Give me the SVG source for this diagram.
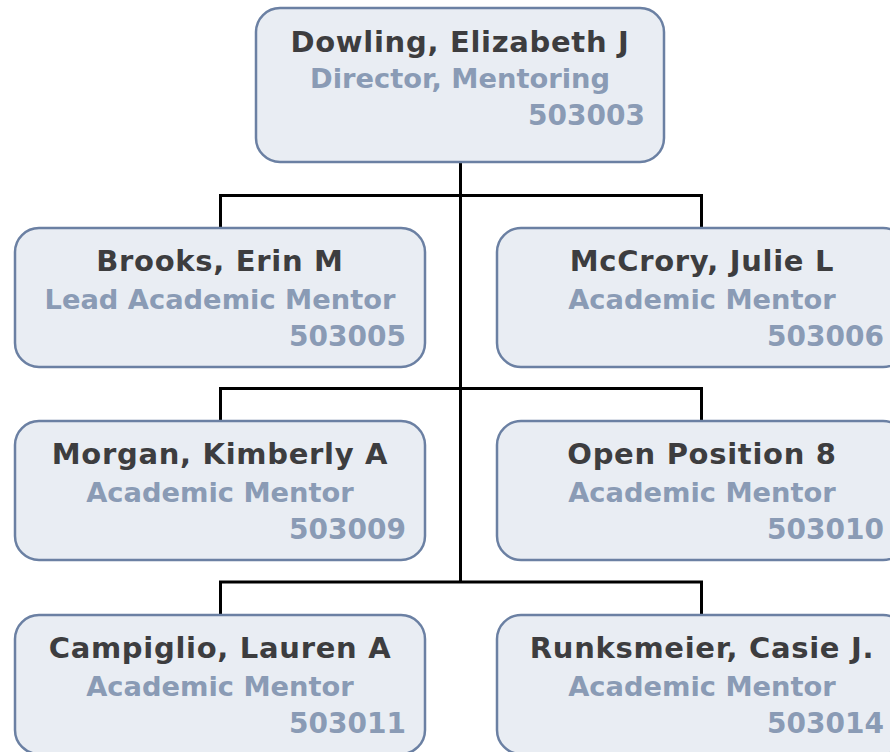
<svg xmlns="http://www.w3.org/2000/svg" width="890" height="752" viewBox="0 0 890 752">
  <style>
    .box { fill: #e9edf3; stroke: #6b80a3; stroke-width: 2.5; }
    .name { font-family: "DejaVu Sans", Verdana, sans-serif; font-weight: bold; font-size: 29px; letter-spacing: 0.7px; fill: #3d3d3f; text-anchor: middle; }
    .title { font-family: "DejaVu Sans", Verdana, sans-serif; font-weight: bold; font-size: 27.3px; fill: #8a9bb5; text-anchor: middle; }
    .num { font-family: "DejaVu Sans", Verdana, sans-serif; font-weight: bold; font-size: 28px; fill: #8a9bb5; text-anchor: end; }
    .link { fill: none; stroke: #000; stroke-width: 3; }
  </style>

  <!-- connectors -->
  <g id="connectors">
    <path class="link" d="M460.5,162 V582"/>
    <path class="link" d="M220.5,228 V195.5 H701.5 V228"/>
    <path class="link" d="M220.5,421 V388.5 H701.5 V421"/>
    <path class="link" d="M220.5,615 V582 H701.5 V615"/>
  </g>

  <!-- director -->
  <g id="node-503003">
    <rect class="box" x="256" y="8" width="408" height="154" rx="24"/>
    <text class="name" x="460" y="52">Dowling, Elizabeth J</text>
    <text class="title" x="460" y="88">Director, Mentoring</text>
    <text class="num" x="645" y="125">503003</text>
  </g>

  <!-- row 1 -->
  <g id="node-503005">
    <rect class="box" x="15" y="228" width="410" height="139" rx="24"/>
    <text class="name" x="220" y="271">Brooks, Erin M</text>
    <text class="title" x="220" y="309">Lead Academic Mentor</text>
    <text class="num" x="406" y="346">503005</text>
  </g>
  <g id="node-503006">
    <rect class="box" x="497" y="228" width="410" height="139" rx="24"/>
    <text class="name" x="702" y="271">McCrory, Julie L</text>
    <text class="title" x="702" y="309">Academic Mentor</text>
    <text class="num" x="884" y="346">503006</text>
  </g>

  <!-- row 2 -->
  <g id="node-503009">
    <rect class="box" x="15" y="421" width="410" height="139" rx="24"/>
    <text class="name" x="220" y="464">Morgan, Kimberly A</text>
    <text class="title" x="220" y="502">Academic Mentor</text>
    <text class="num" x="406" y="539">503009</text>
  </g>
  <g id="node-503010">
    <rect class="box" x="497" y="421" width="410" height="139" rx="24"/>
    <text class="name" x="702" y="464">Open Position 8</text>
    <text class="title" x="702" y="502">Academic Mentor</text>
    <text class="num" x="884" y="539">503010</text>
  </g>

  <!-- row 3 -->
  <g id="node-503011">
    <rect class="box" x="15" y="615" width="410" height="139" rx="24"/>
    <text class="name" x="220" y="658">Campiglio, Lauren A</text>
    <text class="title" x="220" y="696">Academic Mentor</text>
    <text class="num" x="406" y="733">503011</text>
  </g>
  <g id="node-503014">
    <rect class="box" x="497" y="615" width="410" height="139" rx="24"/>
    <text class="name" x="702" y="658">Runksmeier, Casie J.</text>
    <text class="title" x="702" y="696">Academic Mentor</text>
    <text class="num" x="884" y="733">503014</text>
  </g>
</svg>
